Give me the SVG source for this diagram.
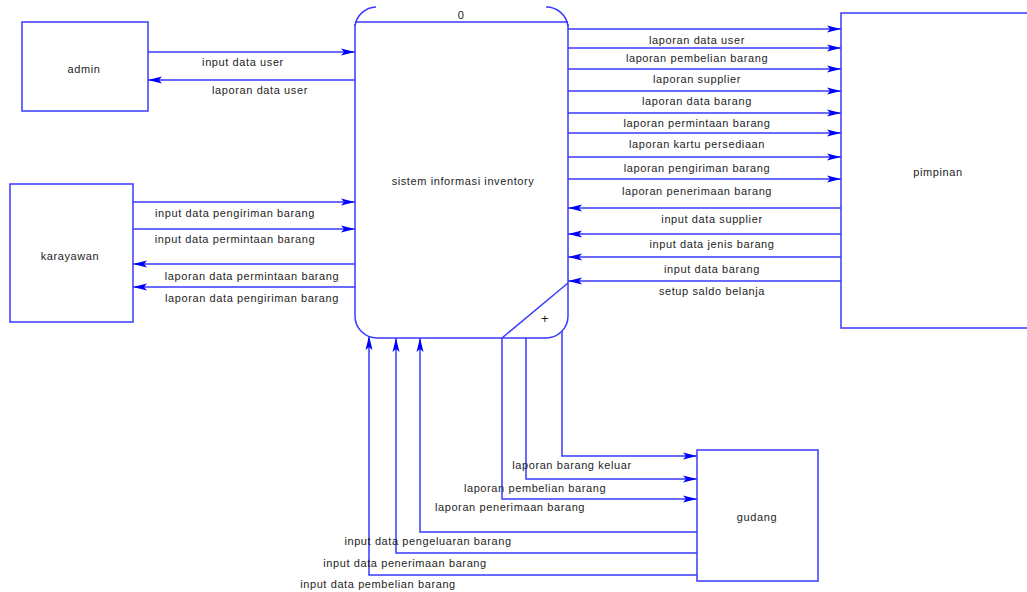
<svg xmlns="http://www.w3.org/2000/svg" width="1027" height="592" viewBox="0 0 1027 592">
<style>
.box{fill:#fff;stroke:#3a3aff;stroke-width:1.5}
.ln{fill:none;stroke:#3a3aff;stroke-width:1.5}
.c{fill:none;stroke:#3a3aff;stroke-width:1.5}
.ar{marker-end:url(#arr)}
text{font-family:"Liberation Sans",Arial,sans-serif;font-size:11px;fill:#1e1e1e;text-anchor:middle;letter-spacing:0.6px}
</style>
<defs>
<marker id="arr" viewBox="0 0 14 8" refX="14" refY="4" markerWidth="14" markerHeight="8" markerUnits="userSpaceOnUse" orient="auto">
<path d="M0,0.5 L14,4 L0,7.5 L3,4 z" fill="#0000ff"/>
</marker>
</defs>
<rect width="1027" height="592" fill="#fff"/>
<g id="connectors">
<path class="c ar" d="M148,52 H355"/>
<path class="c ar" d="M355,80 H148"/>
<path class="c ar" d="M133,202 H355"/>
<path class="c ar" d="M133,229 H355"/>
<path class="c ar" d="M355,264 H133"/>
<path class="c ar" d="M355,287 H133"/>
<path class="c ar" d="M568,29 H841"/>
<path class="c ar" d="M568,48 H841"/>
<path class="c ar" d="M568,69 H841"/>
<path class="c ar" d="M568,91 H841"/>
<path class="c ar" d="M568,113 H841"/>
<path class="c ar" d="M568,133 H841"/>
<path class="c ar" d="M568,157 H841"/>
<path class="c ar" d="M568,179 H841"/>
<path class="c ar" d="M841,208 H568"/>
<path class="c ar" d="M841,234 H568"/>
<path class="c ar" d="M841,257 H568"/>
<path class="c ar" d="M841,281 H568"/>
<path class="c ar" d="M562,331 V456 H697"/>
<path class="c ar" d="M526,338 V479 H697"/>
<path class="c ar" d="M502,338 V499 H697"/>
<path class="c ar" d="M697,532 H420 V338"/>
<path class="c ar" d="M697,553 H396 V338"/>
<path class="c ar" d="M697,575 H369 V336"/>
<text x="243" y="66">input data user</text>
<text x="260" y="94">laporan data user</text>
<text x="235" y="217">input data pengiriman barang</text>
<text x="235" y="243">input data permintaan barang</text>
<text x="252" y="280">laporan data permintaan barang</text>
<text x="252" y="302">laporan data pengiriman barang</text>
<text x="697" y="44">laporan data user</text>
<text x="697" y="62">laporan pembelian barang</text>
<text x="697" y="83">laporan supplier</text>
<text x="697" y="105">laporan data barang</text>
<text x="697" y="127">laporan permintaan barang</text>
<text x="697" y="148">laporan kartu persediaan</text>
<text x="697" y="172">laporan pengiriman barang</text>
<text x="697" y="195">laporan penerimaan barang</text>
<text x="712" y="223">input data supplier</text>
<text x="712" y="248">input data jenis barang</text>
<text x="712" y="273">input data barang</text>
<text x="712" y="295">setup saldo belanja</text>
<text x="572" y="469">laporan barang keluar</text>
<text x="535" y="492">laporan pembelian barang</text>
<text x="510" y="511">laporan penerimaan barang</text>
<text x="428" y="545">input data pengeluaran barang</text>
<text x="405" y="567">input data penerimaan barang</text>
<text x="378" y="588">input data pembelian barang</text>
</g>
<g id="admin">
<rect class="box" x="22" y="22" width="126" height="89"/>
<text x="84" y="73">admin</text>
</g>
<g id="karayawan">
<rect class="box" x="10" y="184" width="123" height="138"/>
<text x="70" y="260">karayawan</text>
</g>
<g id="process">
<path class="box" d="M355,24 V316 A22,22 0 0 0 377,338 H546 A22,22 0 0 0 568,316 V24"/>
<path class="ln" d="M355,26 A22,22 0 0 1 376,7"/>
<path class="ln" d="M546,7 A22,22 0 0 1 568,26"/>
<path class="ln" d="M355,22 H568"/>
<path class="ln" d="M502,338 L568,283"/>
<text x="461" y="19">0</text>
<text x="463" y="185">sistem informasi inventory</text>
<text x="545" y="323" style="font-size:13px">+</text>
</g>
<g id="pimpinan">
<path class="box" d="M1030,13 H841 V328 H1030"/>
<text x="938" y="176">pimpinan</text>
</g>
<g id="gudang">
<rect class="box" x="697" y="450" width="121" height="131"/>
<text x="757" y="521">gudang</text>
</g>
</svg>
